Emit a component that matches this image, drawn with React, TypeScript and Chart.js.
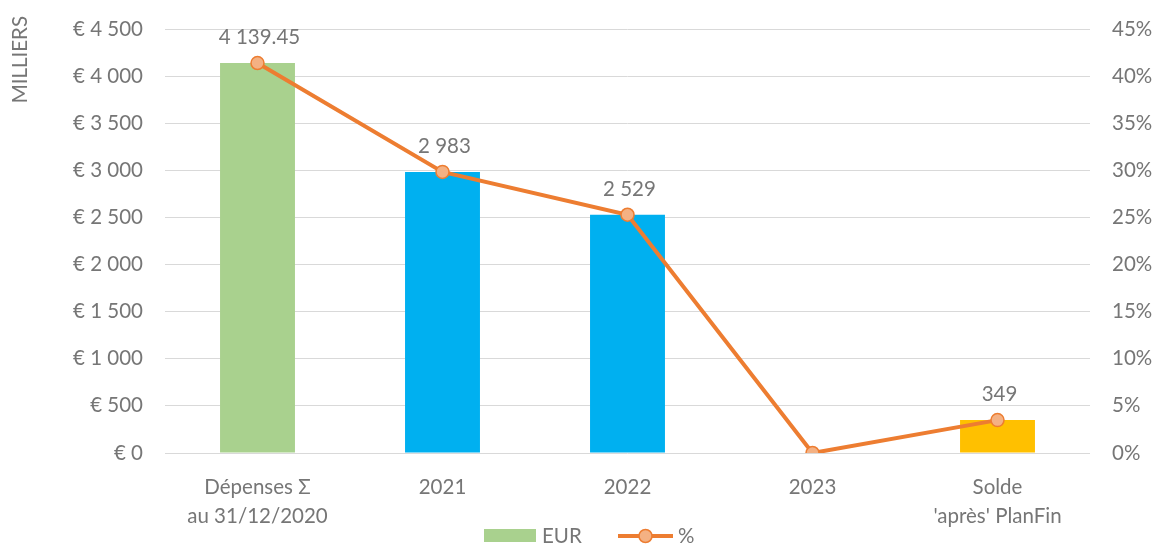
import React, { useEffect, useRef } from 'react';
import { Chart, registerables } from 'chart.js';

Chart.register(...registerables);

const categories: string[][] = [['Dépenses Σ', 'au 31/12/2020'], ['2021'], ['2022'], ['2023'], ['Solde', "'après' PlanFin"]];
const eurValues = [4139.45, 2983, 2529, 0, 349];
const eurLabels = ['4 139.45', '2 983', '2 529', '', '349'];
const pctValues = [0.4139, 0.2983, 0.2529, 0, 0.0349];
const barColors = ['#A9D18E', '#00B0F0', '#00B0F0', '#00B0F0', '#FFC000'];
const seriesNames = ['EUR', '%'];
const leftAxisTitle = 'MILLIERS';
const leftMax = 4500;
const leftStep = 500;
const rightMax = 0.45;
const rightStep = 0.05;

const TEXT = '#767676';
const FONT = 'Lato, "Open Sans", sans-serif';
const FS = 20.5;
const ORANGE = '#ED7D31';
const ORANGE_FILL = '#F4B183';

const fmtThousands = (v: number) => Math.round(v).toString().replace(/\B(?=(\d{3})+(?!\d))/g, ' ');

const barLabelPlugin = {
  id: 'barLabels',
  afterDatasetsDraw(chart: any) {
    const ctx = chart.ctx;
    const meta = chart.getDatasetMeta(0);
    ctx.save();
    ctx.font = `${FS}px ${FONT}`;
    ctx.fillStyle = TEXT;
    ctx.textAlign = 'center';
    ctx.textBaseline = 'alphabetic';
    meta.data.forEach((el: any, i: number) => {
      const t = eurLabels[i];
      if (!t) return;
      ctx.fillText(t, el.x + 2, el.y - 19);
    });
    ctx.restore();
  },
};

const titlePlugin = {
  id: 'axisTitle',
  afterDraw(chart: any) {
    const ctx = chart.ctx;
    ctx.save();
    ctx.font = `${FS}px ${FONT}`;
    ctx.fillStyle = TEXT;
    ctx.translate(20, 16);
    ctx.rotate(-Math.PI / 2);
    ctx.textAlign = 'right';
    ctx.textBaseline = 'middle';
    ctx.fillText(leftAxisTitle, 0, 0);
    ctx.restore();
  },
};

const legendPlugin = {
  id: 'customLegend',
  afterDraw(chart: any) {
    const ctx = chart.ctx;
    const w = chart.width;
    const h = chart.height;
    const x0 = w / 2 - 95;
    const cy = h - 9;
    ctx.save();
    ctx.font = `${FS}px ${FONT}`;
    ctx.textBaseline = 'middle';
    ctx.fillStyle = barColors[0];
    ctx.fillRect(x0, cy - 7, 52, 13);
    ctx.fillStyle = TEXT;
    ctx.textAlign = 'left';
    ctx.fillText(seriesNames[0], x0 + 58, cy);
    const lx = x0 + 134;
    ctx.strokeStyle = ORANGE;
    ctx.lineWidth = 4;
    ctx.beginPath();
    ctx.moveTo(lx, cy);
    ctx.lineTo(lx + 55, cy);
    ctx.stroke();
    ctx.beginPath();
    ctx.arc(lx + 27.5, cy, 6.5, 0, Math.PI * 2);
    ctx.fillStyle = ORANGE_FILL;
    ctx.fill();
    ctx.lineWidth = 1.5;
    ctx.stroke();
    ctx.fillStyle = TEXT;
    ctx.fillText(seriesNames[1], lx + 60, cy);
    ctx.restore();
  },
};

const fixVertical = (width: number) => (scale: any) => {
  scale.width = width;
  scale.paddingTop = 10;
  scale.paddingBottom = 10;
};

export default function App() {
  const ref = useRef<HTMLCanvasElement | null>(null);
  useEffect(() => {
    document.body.style.margin = '0';
    if (!ref.current) return;
    const chart = new Chart(ref.current, {
      type: 'bar',
      data: {
        labels: categories,
        datasets: [
          {
            type: 'bar',
            label: seriesNames[0],
            data: eurValues,
            backgroundColor: barColors,
            borderWidth: 0,
            yAxisID: 'y',
            order: 1,
            categoryPercentage: 1,
            barPercentage: 0.405,
          } as any,
          {
            type: 'line',
            label: seriesNames[1],
            data: pctValues,
            borderColor: ORANGE,
            borderWidth: 4,
            backgroundColor: ORANGE_FILL,
            pointBackgroundColor: ORANGE_FILL,
            pointBorderColor: ORANGE,
            pointBorderWidth: 1.5,
            pointRadius: 6.5,
            tension: 0,
            yAxisID: 'y1',
            order: 0,
          } as any,
        ],
      },
      options: {
        responsive: false,
        animation: false,
        events: [],
        layout: { padding: { top: 29, bottom: 0, left: 0, right: 0 } },
        plugins: {
          legend: { display: false },
          tooltip: { enabled: false },
        },
        scales: {
          x: {
            grid: { display: false },
            border: { display: false },
            ticks: {
              color: TEXT,
              font: { family: FONT, size: FS, lineHeight: 1.4 },
              padding: 12,
              maxRotation: 0,
              autoSkip: false,
            },
            afterFit(scale: any) {
              scale.height = 92;
            },
          },
          y: {
            position: 'left',
            min: 0,
            max: leftMax,
            grid: { color: '#D9D9D9', lineWidth: 1, drawTicks: false },
            border: { display: false },
            ticks: {
              stepSize: leftStep,
              color: TEXT,
              padding: 22,
              font: { family: FONT, size: FS },
              callback: (v: any) => '€ ' + fmtThousands(Number(v)),
            },
            afterFit: fixVertical(165),
          },
          y1: {
            position: 'right',
            min: 0,
            max: rightMax,
            grid: { display: false, drawTicks: false },
            border: { display: false },
            ticks: {
              stepSize: rightStep,
              color: TEXT,
              padding: 22,
              font: { family: FONT, size: FS },
              callback: (v: any) => Math.round(Number(v) * 100) + '%',
            },
            afterFit: fixVertical(68),
          },
        },
      } as any,
      plugins: [barLabelPlugin, titlePlugin, legendPlugin],
    });
    return () => chart.destroy();
  }, []);
  return (
    <div style={{ width: 1158, height: 545 }}>
      <canvas ref={ref} width={1158} height={545} style={{ display: 'block' }} />
    </div>
  );
}
